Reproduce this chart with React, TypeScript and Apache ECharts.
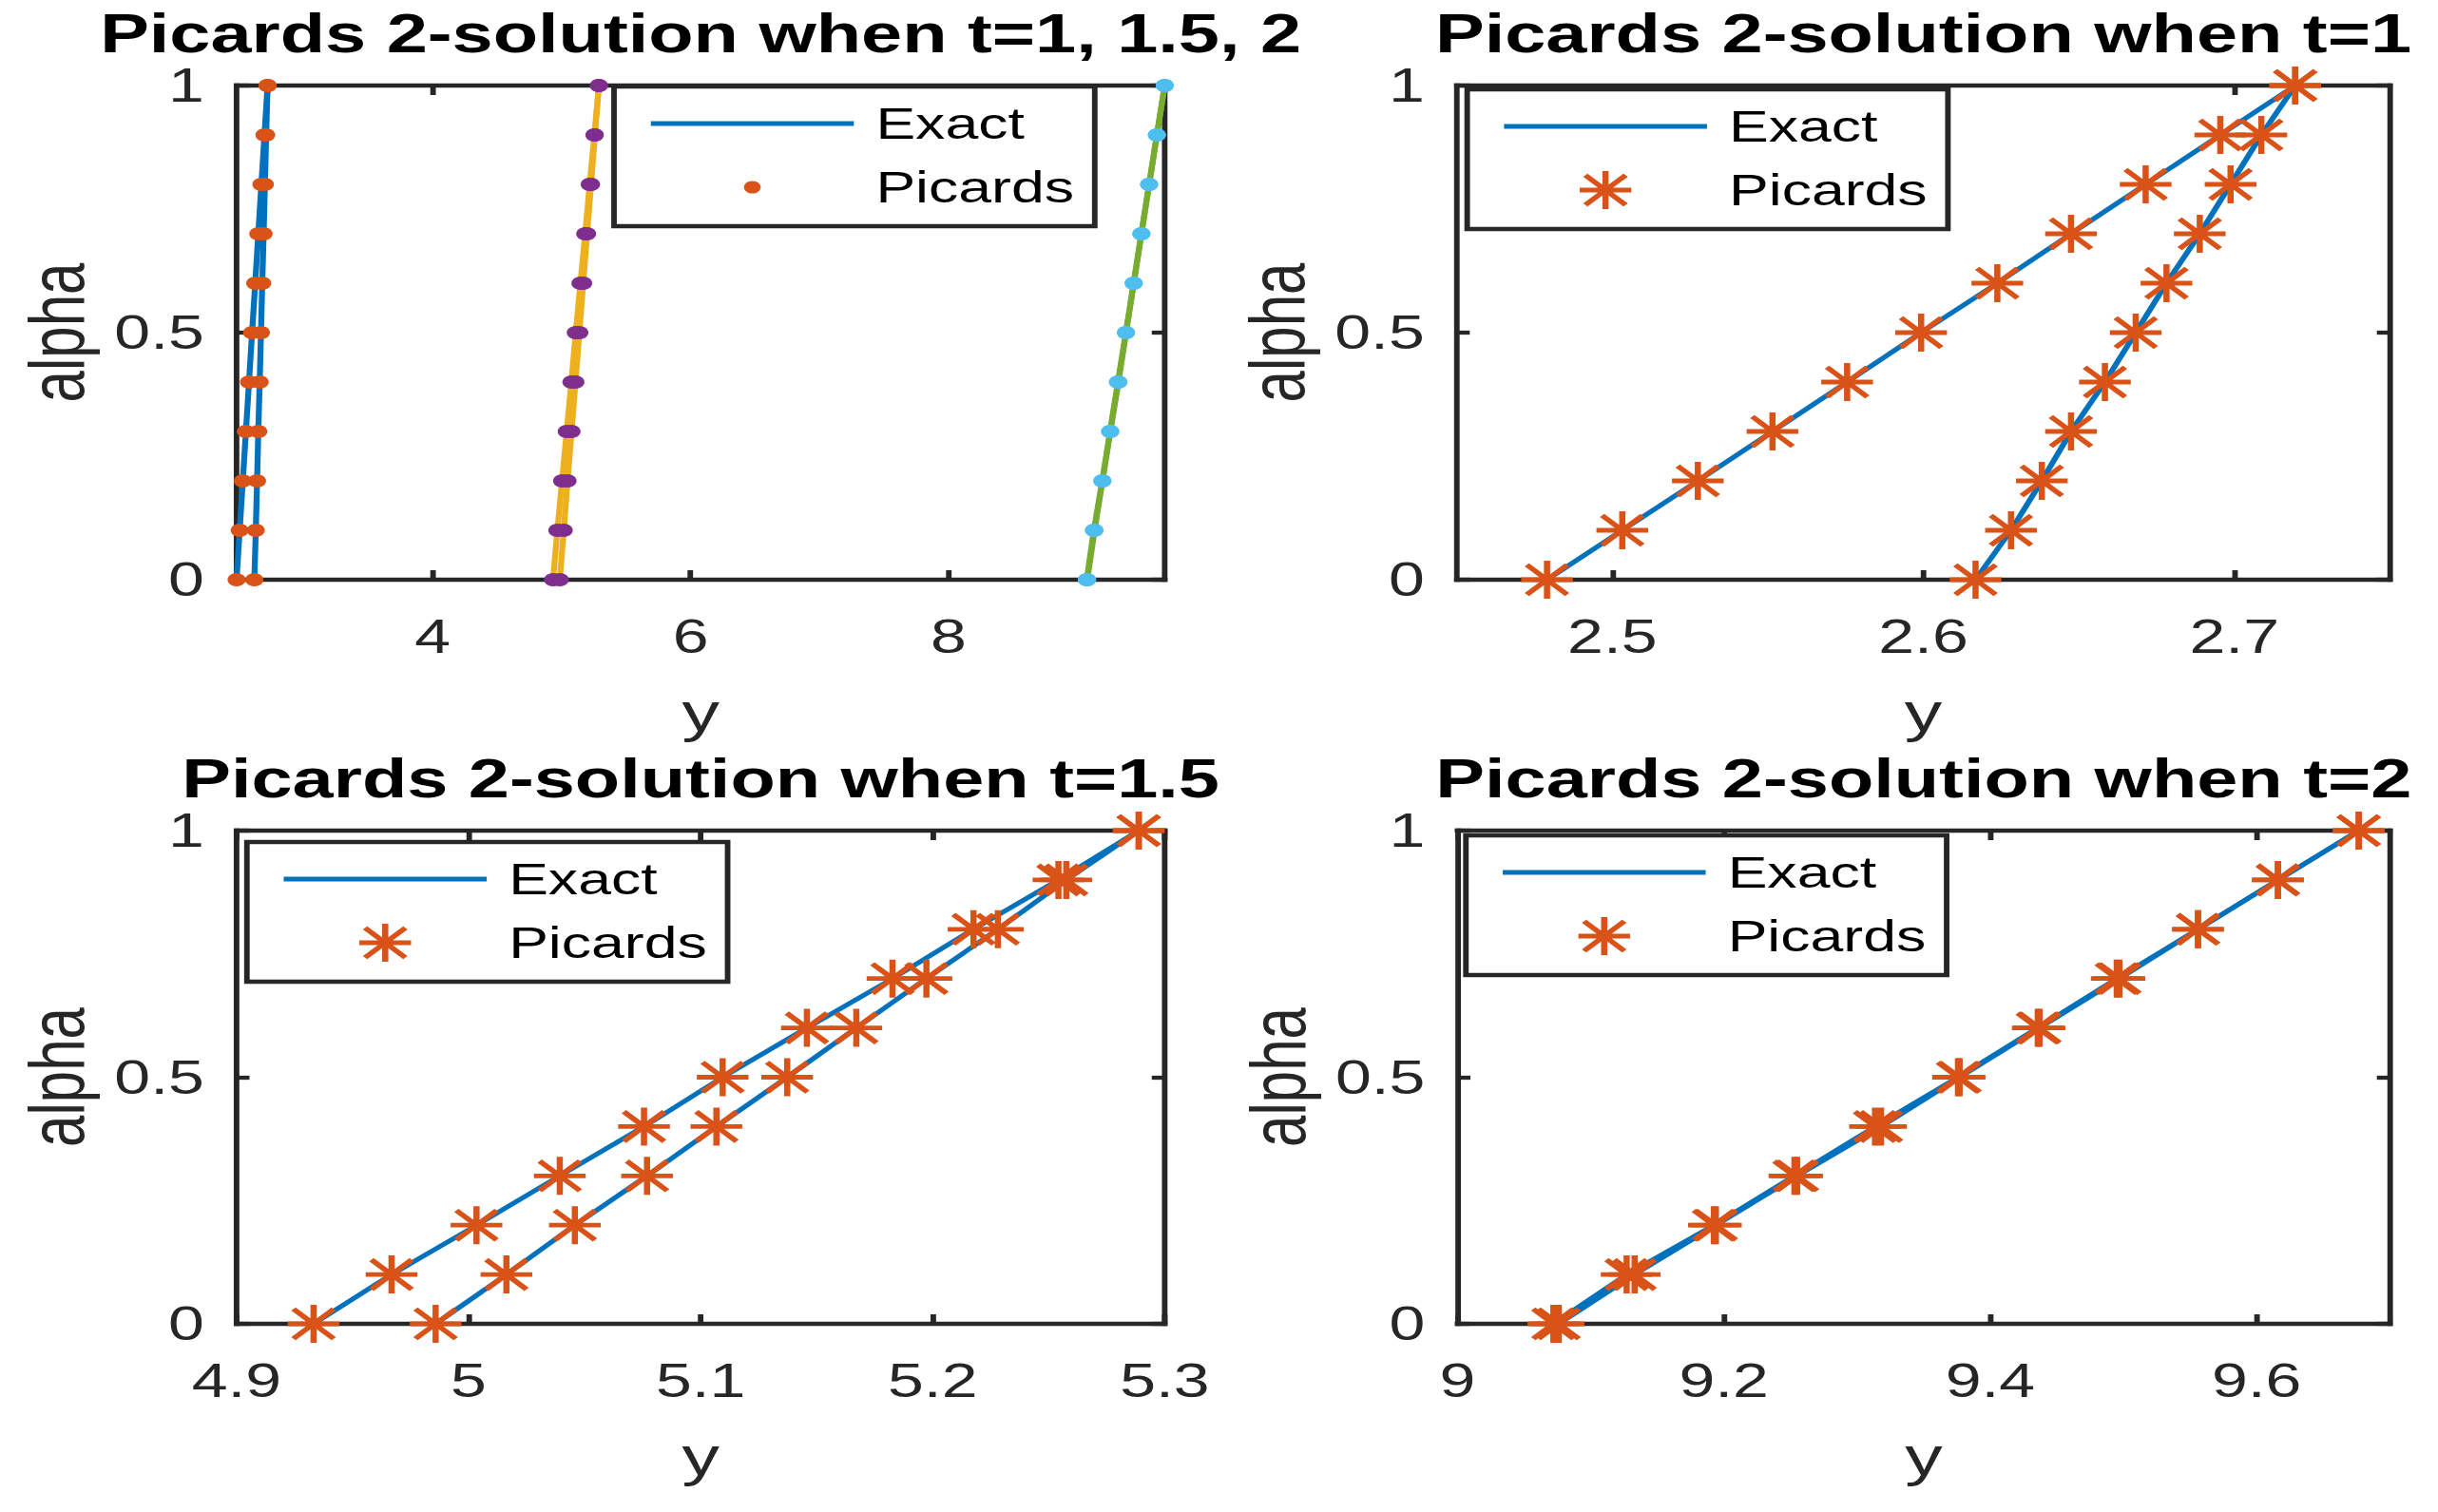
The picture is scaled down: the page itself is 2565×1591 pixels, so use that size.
import React, { useEffect, useRef } from 'react';
import * as echarts from 'echarts';

// ---------------- data ----------------
const alpha = [0, 0.1, 0.2, 0.3, 0.4, 0.5, 0.6, 0.7, 0.8, 0.9, 1];

// t = 1
const t1Lower = [2.479, 2.5032, 2.5275, 2.5515, 2.5755, 2.5993, 2.6238, 2.6475, 2.6715, 2.6955, 2.7196];
const t1Upper = [2.6168, 2.6282, 2.6381, 2.6475, 2.6584, 2.6683, 2.6782, 2.6889, 2.6988, 2.7087, 2.7196];
// t = 1.5
const t15Lower = [4.9332, 4.9668, 5.0034, 5.0393, 5.0756, 5.1095, 5.1458, 5.1827, 5.2176, 5.2542, 5.2888];
const t15Upper = [4.9858, 5.0163, 5.0458, 5.0769, 5.1068, 5.1373, 5.1671, 5.1973, 5.2281, 5.2576, 5.2888];
// t = 2
const t2Lower = [9.072, 9.127, 9.1925, 9.253, 9.3135, 9.3758, 9.4357, 9.495, 9.556, 9.616, 9.6767];
const t2Upper = [9.076, 9.133, 9.194, 9.255, 9.318, 9.377, 9.437, 9.497, 9.556, 9.616, 9.6767];

// tick labels
const alphaTicks = [0, 0.5, 1];
const allTicks = [4, 6, 8];
const t1Ticks = [2.5, 2.6, 2.7];
const t15Ticks = [4.9, 5, 5.1, 5.2, 5.3];
const t2Ticks = [9, 9.2, 9.4, 9.6];

// axis ranges
const t1Range = [2.45, 2.75];
const t15Range = [4.9, 5.3];
const t2Range = [9, 9.7];

const titles = [
  'Picards 2-solution when t=1, 1.5, 2',
  'Picards 2-solution when t=1',
  'Picards 2-solution when t=1.5',
  'Picards 2-solution when t=2',
];
const xName = 'y';
const yName = 'alpha';
const exactName = 'Exact';
const picardsName = 'Picards';

// ---------------- styling ----------------
const S = 2565 / 1886; // horizontal stretch of the reference picture
const W = 1886;
const H = 1591;
const FONT = '"Liberation Sans", Arial, Helvetica, sans-serif';
const AX = '#262626';
const LW = 4.3;
const SERIES_LW = 4.6;
const BLUE = '#0072BD';
const ORANGE = '#D95319';
const YELLOW = '#EDB120';
const PURPLE = '#7E2F8E';
const GREEN = '#77AC30';
const CYAN = '#4DBEEE';

const STAR =
  'path://M0 44H100V56H0Z M44 0H56V100H44Z ' +
  'M15.24 6.76L93.24 84.76L84.76 93.24L6.76 15.24Z ' +
  'M93.24 15.24L15.24 93.24L6.76 84.76L84.76 6.76Z';
const BAR = 'path://M0 0H158V5H0Z';

const allX = [...t1Lower, ...t1Upper, ...t15Lower, ...t15Upper, ...t2Lower, ...t2Upper];
const allRange = [Math.min(...allX), Math.max(...allX)];

const panels = [
  { grid: { left: 183, top: 90, width: 718, height: 520 }, range: allRange, ticks: allTicks, titleTop: 12.5, legend: { left: 475, top: 91 }, dot: true },
  { grid: { left: 1127, top: 90, width: 721.7, height: 520 }, range: t1Range, ticks: t1Ticks, titleTop: 12.5, legend: { left: 1135, top: 94 }, dot: false },
  { grid: { left: 183, top: 874, width: 718, height: 519 }, range: t15Range, ticks: t15Ticks, titleTop: 797, legend: { left: 191, top: 886 }, dot: false },
  { grid: { left: 1127.5, top: 874, width: 721.2, height: 519 }, range: t2Range, ticks: t2Ticks, titleTop: 797, legend: { left: 1134, top: 879 }, dot: false },
];

function axisCommon(gi: number, min: number, max: number, ticks: number[]) {
  return {
    type: 'value',
    gridIndex: gi,
    min,
    max,
    splitLine: { show: false },
    axisLine: { show: true, onZero: false, lineStyle: { color: AX, width: LW, cap: 'square' } },
    axisTick: { show: true, inside: true, length: 10, customValues: ticks, lineStyle: { color: AX, width: LW } },
  };
}

function labelStyle(margin: number, ticks: number[]) {
  return { show: true, customValues: ticks, margin, fontSize: 50, color: AX, fontFamily: FONT, lineHeight: 40 };
}

function buildOption() {
  const xAxis: any[] = [];
  const yAxis: any[] = [];
  panels.forEach((p, gi) => {
    xAxis.push({
      ...axisCommon(gi, p.range[0], p.range[1], p.ticks),
      position: 'bottom',
      name: xName,
      nameLocation: 'middle',
      nameGap: 109.5,
      nameMoveOverlap: false,
      nameTextStyle: { fontSize: 58, color: AX, fontFamily: FONT, lineHeight: 58 },
      axisLabel: labelStyle(40, p.ticks),
    });
    xAxis.push({ ...axisCommon(gi, p.range[0], p.range[1], p.ticks), position: 'top', axisLabel: { show: false } });
    yAxis.push({
      ...axisCommon(gi, 0, 1, alphaTicks),
      position: 'left',
      name: yName,
      nameLocation: 'middle',
      nameRotate: 90,
      nameGap: 109,
      nameMoveOverlap: false,
      nameTextStyle: { fontSize: 60, color: AX, fontFamily: FONT, lineHeight: 60 },
      axisLabel: labelStyle(25, alphaTicks),
    });
    yAxis.push({ ...axisCommon(gi, 0, 1, alphaTicks), position: 'right', axisLabel: { show: false } });
  });

  const line = (gi: number, xs: number[], color: string, name: string) => ({
    type: 'line',
    name,
    xAxisIndex: gi * 2,
    yAxisIndex: gi * 2,
    data: xs.map((x, i) => [x, alpha[i]]),
    symbol: 'none',
    showSymbol: false,
    lineStyle: { color, width: SERIES_LW },
    itemStyle: { color },
    clip: false,
    silent: true,
    z: 2,
  });
  const pts = (gi: number, lo: number[], up: number[], color: string, name: string, symbol: string, size: number) => ({
    type: 'scatter',
    name,
    xAxisIndex: gi * 2,
    yAxisIndex: gi * 2,
    data: [...lo.map((x, i) => [x, alpha[i]]), ...up.map((x, i) => [x, alpha[i]])],
    symbol,
    symbolSize: size,
    itemStyle: { color, opacity: 1 },
    clip: false,
    silent: true,
    z: 3,
  });

  const series: any[] = [
    // panel 0: all three times
    line(0, t1Lower, BLUE, exactName),
    line(0, t1Upper, BLUE, exactName),
    pts(0, t1Lower, t1Upper, ORANGE, picardsName, 'circle', 14),
    line(0, t15Lower, YELLOW, 'Exact t=1.5'),
    line(0, t15Upper, YELLOW, 'Exact t=1.5'),
    pts(0, t15Lower, t15Upper, PURPLE, 'Picards t=1.5', 'circle', 14),
    line(0, t2Lower, GREEN, 'Exact t=2'),
    line(0, t2Upper, GREEN, 'Exact t=2'),
    pts(0, t2Lower, t2Upper, CYAN, 'Picards t=2', 'circle', 14),
    // panel 1: t = 1
    line(1, t1Lower, BLUE, exactName),
    line(1, t1Upper, BLUE, exactName),
    pts(1, t1Lower, t1Upper, ORANGE, picardsName, STAR, 40),
    // panel 2: t = 1.5
    line(2, t15Lower, BLUE, exactName),
    line(2, t15Upper, BLUE, exactName),
    pts(2, t15Lower, t15Upper, ORANGE, picardsName, STAR, 40),
    // panel 3: t = 2
    line(3, t2Lower, BLUE, exactName),
    line(3, t2Upper, BLUE, exactName),
    pts(3, t2Lower, t2Upper, ORANGE, picardsName, STAR, 40),
  ];

  return {
    animation: false,
    backgroundColor: '#ffffff',
    textStyle: { fontFamily: FONT },
    grid: panels.map((p) => ({ ...p.grid, containLabel: false, outerBoundsMode: 'none', show: false })),
    title: panels.map((p, i) => ({
      text: titles[i],
      left: p.grid.left + p.grid.width / 2,
      top: p.titleTop,
      textAlign: 'center',
      padding: 0,
      textStyle: { fontSize: 57, fontWeight: 'bold', color: '#000000', fontFamily: FONT, lineHeight: 44 },
    })),
    legend: panels.map((p) => ({
      orient: 'vertical',
      left: p.legend.left,
      top: p.legend.top,
      align: 'left',
      padding: [16, 16, 18, 28.5],
      itemGap: 21,
      itemWidth: 157,
      itemHeight: p.dot ? 13 : 40,
      borderColor: AX,
      borderWidth: LW,
      backgroundColor: '#ffffff',
      selectedMode: false,
      itemStyle: { borderWidth: 0 },
      textStyle: { fontSize: 46, fontFamily: FONT, color: '#000000', lineHeight: 46, padding: [0, 0, 0, 12] },
      data: [
        { name: exactName, icon: BAR },
        { name: picardsName, icon: p.dot ? 'circle' : STAR },
      ],
    })),
    xAxis,
    yAxis,
    series,
  };
}

export default function App() {
  const ref = useRef<HTMLDivElement>(null);
  useEffect(() => {
    document.body.style.margin = '0';
    document.body.style.overflow = 'hidden';
    document.documentElement.style.overflow = 'hidden';
    const chart = echarts.init(ref.current as HTMLDivElement, null, { renderer: 'svg', width: W, height: H });
    chart.setOption(buildOption() as any);
    return () => chart.dispose();
  }, []);
  return (
    <div
      ref={ref}
      style={{
        position: 'absolute',
        left: 0,
        top: 0,
        width: W,
        height: H,
        transform: `scaleX(${S})`,
        transformOrigin: '0 0',
        background: '#ffffff',
      }}
    />
  );
}
